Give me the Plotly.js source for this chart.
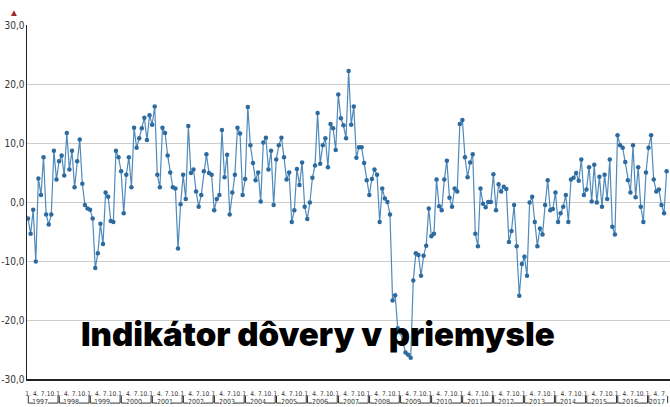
<!DOCTYPE html>
<html>
<head>
<meta charset="utf-8">
<script src="https://cdn.plot.ly/plotly-3.0.1.min.js"></script>
<style>html,body{margin:0;padding:0;background:#fff;}#chart{width:670px;height:407px;}</style>
</head>
<body>
<div id="chart"></div>
<script>
// Monthly values, Jan 1997 – Aug 2017
var years = [1997,1998,1999,2000,2001,2002,2003,2004,2005,2006,2007,2008,2009,2010,2011,2012,2013,2014,2015,2016,2017];
var monthTickText = ['1.','4.','7.','10.'];
var yTickVals = [-30,-20,-10,0,10,20,30];
var yTickText = ['-30,0','-20,0','-10,0','0,0','10,0','20,0','30,0'];
var values = [
  -2.8, -5.4, -1.3, -10.1, 4.0, 1.2, 7.6, -2.1, -3.8, -2.1, 8.7, 3.8,
  6.9, 7.9, 4.5, 11.7, 5.5, 8.7, 2.5, 6.9, 10.6, 3.1, -0.5, -1.1,
  -1.3, -2.8, -11.2, -8.7, -3.7, -7.1, 1.6, 0.9, -3.2, -3.4, 8.7, 7.6,
  5.2, -1.9, 4.6, 7.6, 2.5, 12.6, 9.2, 10.8, 12.5, 14.3, 10.5, 14.7,
  13.1, 16.2, 4.6, 2.5, 12.6, 11.7, 7.9, 5.0, 2.5, 2.3, -7.9, -0.4,
  4.6, 0.5, 12.9, 4.9, 5.5, 1.8, -0.8, 1.2, 5.2, 8.1, 4.9, 4.6,
  -1.4, 0.5, 1.2, 12.2, 4.2, 8.0, -2.1, 1.6, 4.6, 12.6, 11.6, 1.2,
  3.9, 16.1, 9.6, 6.6, 3.7, 5.0, 0.1, 10.1, 10.9, 5.5, 8.7, -0.5,
  7.2, 9.6, 10.9, 7.6, 3.8, 5.0, -3.4, -1.4, 5.6, 2.9, 6.7, -0.8,
  -2.9, -0.1, 4.1, 6.2, 15.1, 6.5, 9.6, 10.8, 5.9, 13.2, 12.5, 8.8,
  18.2, 14.2, 13.0, 10.8, 22.2, 13.1, 16.2, 7.5, 9.3, 9.3, 6.6, 3.7,
  1.2, 3.9, 5.5, 4.6, -3.4, 2.3, 0.6, 0.0, -2.1, -16.7, -15.8, -21.4,
  -22.1, -23.8, -25.5, -25.9, -26.4, -13.3, -8.7, -9.0, -12.5, -9.1, -7.4, -1.1,
  -5.8, -5.4, 3.8, -0.7, -1.4, 3.8, 7.0, 0.7, -0.8, 2.3, 1.8, 13.2,
  13.9, 7.6, 4.2, 6.7, 8.1, -5.4, -7.5, 2.3, -0.3, -0.9, 0.0, 0.0,
  4.7, -1.4, 3.0, 1.8, 2.6, 2.2, -6.8, -4.9, -0.5, -7.5, -15.9, -10.5,
  -9.3, -12.5, -0.1, 0.9, -3.4, -7.5, -4.5, -5.5, -0.5, 3.7, -1.4, -1.2,
  1.6, -3.4, -1.9, -0.8, 1.2, -3.4, 3.8, 4.1, 4.9, 3.6, 7.2, 1.2,
  2.1, 5.9, 0.1, 6.3, -0.1, 4.3, -0.8, 4.6, 0.5, 7.2, -4.2, -5.5,
  11.3, 9.6, 9.2, 6.8, 3.7, 1.6, 9.6, 0.8, 5.9, -0.8, -3.4, 5.0,
  9.2, 11.3, 3.8, 1.8, 2.1, -0.5, -1.9, 5.2
];
var titleText = 'Indikátor dôvery v priemysle';

var narrow = 'Liberation Sans Narrow, DejaVu Sans Condensed, sans-serif';
var x = values.map(function(v, i){ return i; });
var tickvals = [], ticktext = [];
for (var i = 0; i < values.length; i++) {
  if (i % 3 === 0) { tickvals.push(i); ticktext.push(monthTickText[(i % 12) / 3]); }
}

var lineCol = '#333';
var shapes = [], annotations = [];
var yTop = -0.048, yBot = -0.068;
var lastIdx = values.length - 1;
years.forEach(function(yr, k){
  var s = k * 12;
  var partial = (s + 11 > lastIdx);
  var e = partial ? lastIdx + 0.4 : s + 11.6;
  var a = s + 0.1;
  var c = partial ? s + 3.4 : s + 4.8;
  annotations.push({xref:'x', yref:'paper', x:c, y:-0.064, text:String(yr), showarrow:false,
    font:{family:narrow, size:7, color:'#333'}, xanchor:'center', yanchor:'middle'});
  shapes.push({type:'line', xref:'x', yref:'paper', x0:a, x1:a, y0:yTop, y1:yBot, line:{color:lineCol, width:1}});
  shapes.push({type:'line', xref:'x', yref:'paper', x0:a, x1:partial ? a + 0.3 : c - 2.9, y0:yBot, y1:yBot, line:{color:lineCol, width:1}});
  if (!partial) {
    shapes.push({type:'line', xref:'x', yref:'paper', x0:c + 2.9, x1:e, y0:yBot, y1:yBot, line:{color:lineCol, width:1}});
  }
  shapes.push({type:'line', xref:'x', yref:'paper', x0:e, x1:e, y0:yTop, y1:yBot, line:{color:lineCol, width:1}});
});

annotations.push({xref:'paper', yref:'paper', x:-0.0202, y:1.036, text:'▲', showarrow:false,
  font:{size:10, color:'#a3262a'}, xanchor:'center', yanchor:'middle'});
annotations.push({xref:'paper', yref:'paper', x:0.452, y:0.128, text:titleText, showarrow:false,
  font:{family:'Inter, Roboto, sans-serif', size:33, color:'#000', weight:900}, xanchor:'center', yanchor:'middle'});

var trace = {
  x: x, y: values, type:'scatter', mode:'lines+markers',
  line:{color:'#4f8abb', width:1.2},
  marker:{color:'#2c6a9f', size:4.5},
  hoverinfo:'skip'
};

var layout = {
  width:670, height:407,
  margin:{l:27, r:0, t:25, b:28},
  paper_bgcolor:'#fff', plot_bgcolor:'#fff',
  showlegend:false,
  xaxis:{range:[-0.4, 248.3], showgrid:false, zeroline:false, showline:true, linecolor:'#222', linewidth:1.5,
    tickvals:tickvals, ticktext:ticktext, ticks:'', ticklabelstandoff:8, tickangle:0,
    tickfont:{family:narrow, size:6.5, color:'#333'}},
  yaxis:{range:[-30, 30], tickvals:yTickVals, ticktext:yTickText, showgrid:true, gridcolor:'#cccccc', gridwidth:1,
    zeroline:false, showline:true, linecolor:'#222', linewidth:1.5, ticks:'', ticklabelstandoff:-1,
    tickfont:{family:narrow, size:10, color:'#333'}},
  shapes:shapes,
  annotations:annotations
};

Plotly.newPlot('chart', [trace], layout, {staticPlot:true, displayModeBar:false});
</script>
</body>
</html>
